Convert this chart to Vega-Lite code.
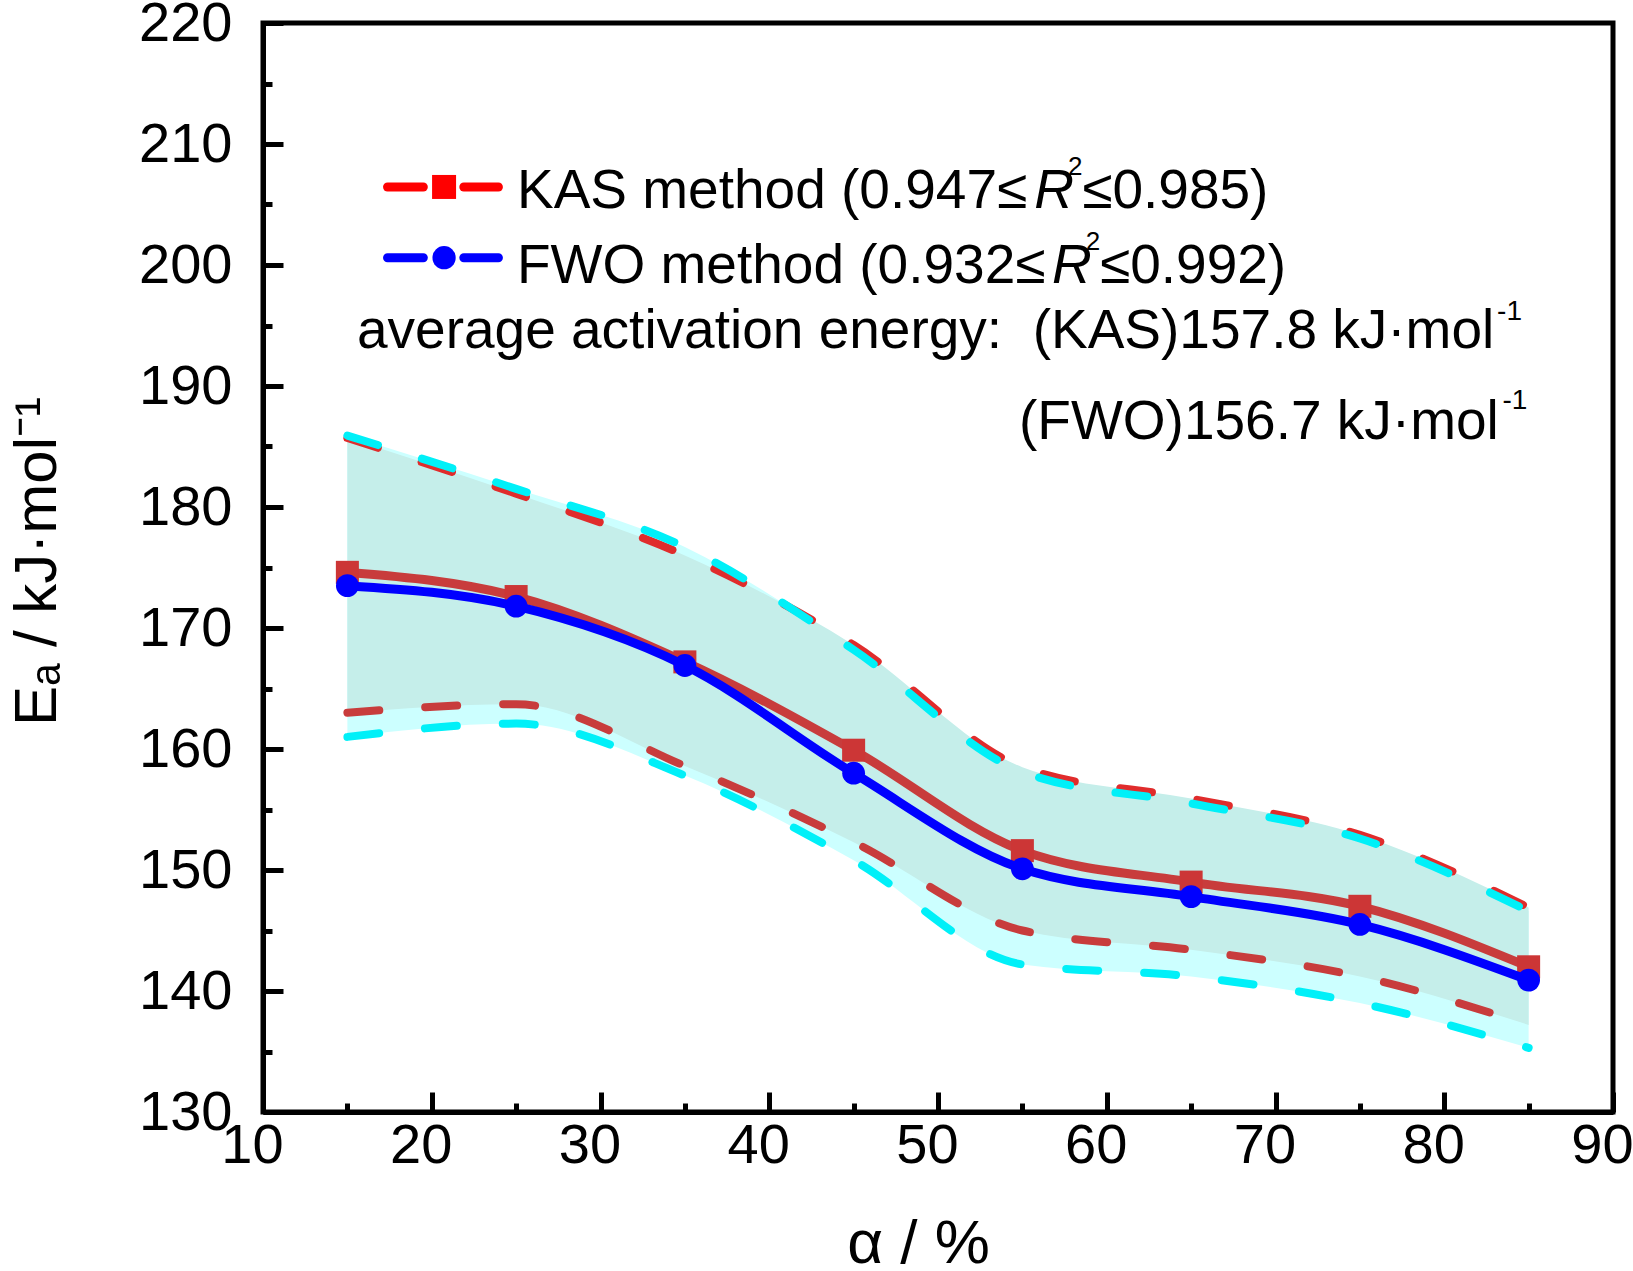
{
  "$schema": "https://vega.github.io/schema/vega-lite/v6.json",
  "width": 1350,
  "height": 1089,
  "autosize": {"type": "none"},
  "padding": {"left": 263, "top": 23, "right": 20, "bottom": 159},
  "background": "white",
  "datasets": {
    "ea": [
      {"alpha": 15, "method": "KAS", "Ea": 174.6, "upper": 185.7, "lower": 163.0},
      {"alpha": 25, "method": "KAS", "Ea": 172.6, "upper": 181.1, "lower": 163.7},
      {"alpha": 35, "method": "KAS", "Ea": 167.2, "upper": 176.0, "lower": 158.6},
      {"alpha": 45, "method": "KAS", "Ea": 159.9, "upper": 168.6, "lower": 152.3},
      {"alpha": 55, "method": "KAS", "Ea": 151.6, "upper": 158.5, "lower": 145.0},
      {"alpha": 65, "method": "KAS", "Ea": 149.0, "upper": 155.9, "lower": 143.4},
      {"alpha": 75, "method": "KAS", "Ea": 147.0, "upper": 152.9, "lower": 141.2},
      {"alpha": 85, "method": "KAS", "Ea": 142.0, "upper": 146.9, "lower": 137.2},
      {"alpha": 15, "method": "FWO", "Ea": 173.5, "upper": 185.9, "lower": 161.0},
      {"alpha": 25, "method": "FWO", "Ea": 171.8, "upper": 181.5, "lower": 162.1},
      {"alpha": 35, "method": "FWO", "Ea": 166.9, "upper": 176.7, "lower": 157.8},
      {"alpha": 45, "method": "FWO", "Ea": 158.0, "upper": 168.2, "lower": 150.8},
      {"alpha": 55, "method": "FWO", "Ea": 150.1, "upper": 158.1, "lower": 142.2},
      {"alpha": 65, "method": "FWO", "Ea": 147.8, "upper": 155.5, "lower": 141.2},
      {"alpha": 75, "method": "FWO", "Ea": 145.5, "upper": 152.6, "lower": 139.0},
      {"alpha": 85, "method": "FWO", "Ea": 140.9, "upper": 146.6, "lower": 135.3}
    ]
  },
  "layer": [
    {
      "layer": [
        {
          "data": {"name": "ea"},
          "transform": [{"filter": "datum.method === 'FWO'"}],
          "mark": {"type": "area", "interpolate": "monotone", "color": "#ccffff"},
          "encoding": {
            "x": {
              "field": "alpha", "type": "quantitative",
              "scale": {"domain": [10, 90], "nice": false, "zero": false},
              "axis": {
                "values": [10, 20, 30, 40, 50, 60, 70, 80, 90],
                "title": "α / %",
                "titleX": 655, "titleY": 150, "titleBaseline": "alphabetic",
                "titleFont": "Liberation Sans", "titleFontSize": 62, "titleFontWeight": "normal",
                "labelPadding": 26, "labelOffset": -11, "tickSize": -20
              }
            },
            "y": {
              "field": "upper", "type": "quantitative",
              "scale": {"domain": [130, 220], "nice": false, "zero": false},
              "axis": {
                "values": [130, 140, 150, 160, 170, 180, 190, 200, 210, 220],
                "title": "Eₐ / kJ·mol⁻¹",
                "titleX": -208, "titleY": 538, "titleBaseline": "alphabetic", "titleAngle": 270,
                "titleFont": "Liberation Sans", "titleFontSize": 60, "titleFontWeight": "normal",
                "labelPadding": 51, "tickSize": -20
              }
            },
            "y2": {"field": "lower"}
          }
        },
        {
          "data": {"name": "ea"},
          "transform": [{"filter": "datum.method === 'KAS'"}],
          "mark": {"type": "area", "interpolate": "monotone", "color": "#c5eeea"},
          "encoding": {
            "x": {"field": "alpha", "type": "quantitative"},
            "y": {"field": "upper", "type": "quantitative"},
            "y2": {"field": "lower"}
          }
        },
        {
          "data": {"name": "ea"},
          "transform": [{"filter": "datum.method === 'KAS'"}],
          "mark": {"type": "line", "interpolate": "monotone", "color": "#c83c3c", "strokeWidth": 8, "strokeDash": [32, 46], "strokeCap": "round"},
          "encoding": {
            "x": {"field": "alpha", "type": "quantitative"},
            "y": {"field": "lower", "type": "quantitative"}
          }
        },
        {
          "data": {"name": "ea"},
          "transform": [{"filter": "datum.method === 'FWO'"}],
          "mark": {"type": "line", "interpolate": "monotone", "color": "#00f0f8", "strokeWidth": 8, "strokeDash": [32, 46], "strokeCap": "round"},
          "encoding": {
            "x": {"field": "alpha", "type": "quantitative"},
            "y": {"field": "lower", "type": "quantitative"}
          }
        },
        {
          "data": {"name": "ea"},
          "transform": [{"filter": "datum.method === 'KAS'"}],
          "mark": {"type": "line", "interpolate": "monotone", "color": "#e02c2c", "strokeWidth": 8, "strokeDash": [32, 46], "strokeCap": "round"},
          "encoding": {
            "x": {"field": "alpha", "type": "quantitative"},
            "y": {"field": "upper", "type": "quantitative"}
          }
        },
        {
          "data": {"name": "ea"},
          "transform": [{"filter": "datum.method === 'FWO'"}],
          "mark": {"type": "line", "interpolate": "monotone", "color": "#00f0f8", "strokeWidth": 8, "strokeDash": [32, 46], "strokeCap": "round"},
          "encoding": {
            "x": {"field": "alpha", "type": "quantitative"},
            "y": {"field": "upper", "type": "quantitative"}
          }
        },
        {
          "data": {"name": "ea"},
          "transform": [{"filter": "datum.method === 'KAS'"}],
          "mark": {"type": "line", "interpolate": "monotone", "color": "#c83c3c", "strokeWidth": 9},
          "encoding": {
            "x": {"field": "alpha", "type": "quantitative"},
            "y": {"field": "Ea", "type": "quantitative"}
          }
        },
        {
          "data": {"name": "ea"},
          "transform": [{"filter": "datum.method === 'KAS'"}],
          "mark": {"type": "point", "shape": "square", "filled": true, "size": 530, "color": "#cc3636", "opacity": 1},
          "encoding": {
            "x": {"field": "alpha", "type": "quantitative"},
            "y": {"field": "Ea", "type": "quantitative"}
          }
        },
        {
          "data": {"name": "ea"},
          "transform": [{"filter": "datum.method === 'FWO'"}],
          "mark": {"type": "line", "interpolate": "monotone", "color": "#0000ff", "strokeWidth": 9},
          "encoding": {
            "x": {"field": "alpha", "type": "quantitative"},
            "y": {"field": "Ea", "type": "quantitative"}
          }
        },
        {
          "data": {"name": "ea"},
          "transform": [{"filter": "datum.method === 'FWO'"}],
          "mark": {"type": "point", "shape": "circle", "filled": true, "size": 520, "color": "#0000ff", "opacity": 1},
          "encoding": {
            "x": {"field": "alpha", "type": "quantitative"},
            "y": {"field": "Ea", "type": "quantitative"}
          }
        },
        {
          "data": {"values": [{"method": "KAS"}]},
          "mark": {"type": "rule", "color": "#ff0000", "strokeWidth": 9, "strokeCap": "round"},
          "encoding": {"x": {"datum": 17.38}, "x2": {"datum": 19.5}, "y": {"datum": 206.45}}
        },
        {
          "data": {"values": [{"method": "KAS"}]},
          "mark": {"type": "rule", "color": "#ff0000", "strokeWidth": 9, "strokeCap": "round"},
          "encoding": {"x": {"datum": 21.9}, "x2": {"datum": 23.95}, "y": {"datum": 206.45}}
        },
        {
          "data": {"values": [{"method": "KAS"}]},
          "mark": {"type": "point", "shape": "square", "filled": true, "size": 576, "color": "#ff0000", "opacity": 1},
          "encoding": {"x": {"datum": 20.73}, "y": {"datum": 206.45}}
        },
        {
          "data": {"values": [{"method": "FWO"}]},
          "mark": {"type": "rule", "color": "#0000ff", "strokeWidth": 9, "strokeCap": "round"},
          "encoding": {"x": {"datum": 17.38}, "x2": {"datum": 19.5}, "y": {"datum": 200.6}}
        },
        {
          "data": {"values": [{"method": "FWO"}]},
          "mark": {"type": "rule", "color": "#0000ff", "strokeWidth": 9, "strokeCap": "round"},
          "encoding": {"x": {"datum": 21.9}, "x2": {"datum": 23.95}, "y": {"datum": 200.6}}
        },
        {
          "data": {"values": [{"method": "FWO"}]},
          "mark": {"type": "point", "shape": "circle", "filled": true, "size": 540, "color": "#0000ff", "opacity": 1},
          "encoding": {"x": {"datum": 20.73}, "y": {"datum": 200.6}}
        },
        {
          "data": {"values": [{"label": "KAS method (0.947≤"}]},
          "mark": {"type": "text", "align": "left", "baseline": "alphabetic", "fontSize": 55},
          "encoding": {"x": {"datum": 25.05}, "y": {"datum": 204.7}, "text": {"field": "label"}}
        },
        {
          "data": {"values": [{"label": "R"}]},
          "mark": {"type": "text", "align": "left", "baseline": "alphabetic", "fontSize": 55, "fontStyle": "italic"},
          "encoding": {"x": {"datum": 55.7}, "y": {"datum": 204.7}, "text": {"field": "label"}}
        },
        {
          "data": {"values": [{"label": "2"}]},
          "mark": {"type": "text", "align": "left", "baseline": "alphabetic", "fontSize": 26},
          "encoding": {"x": {"datum": 57.7}, "y": {"datum": 207.44}, "text": {"field": "label"}}
        },
        {
          "data": {"values": [{"label": "≤0.985)"}]},
          "mark": {"type": "text", "align": "left", "baseline": "alphabetic", "fontSize": 55},
          "encoding": {"x": {"datum": 58.55}, "y": {"datum": 204.7}, "text": {"field": "label"}}
        },
        {
          "data": {"values": [{"label": "FWO method (0.932≤"}]},
          "mark": {"type": "text", "align": "left", "baseline": "alphabetic", "fontSize": 55},
          "encoding": {"x": {"datum": 25.05}, "y": {"datum": 198.5}, "text": {"field": "label"}}
        },
        {
          "data": {"values": [{"label": "R"}]},
          "mark": {"type": "text", "align": "left", "baseline": "alphabetic", "fontSize": 55, "fontStyle": "italic"},
          "encoding": {"x": {"datum": 56.75}, "y": {"datum": 198.5}, "text": {"field": "label"}}
        },
        {
          "data": {"values": [{"label": "2"}]},
          "mark": {"type": "text", "align": "left", "baseline": "alphabetic", "fontSize": 26},
          "encoding": {"x": {"datum": 58.75}, "y": {"datum": 201.24}, "text": {"field": "label"}}
        },
        {
          "data": {"values": [{"label": "≤0.992)"}]},
          "mark": {"type": "text", "align": "left", "baseline": "alphabetic", "fontSize": 55},
          "encoding": {"x": {"datum": 59.6}, "y": {"datum": 198.5}, "text": {"field": "label"}}
        },
        {
          "data": {"values": [{"label": "average activation energy:\u00a0 (KAS)157.8 kJ·mol"}]},
          "mark": {"type": "text", "align": "left", "baseline": "alphabetic", "fontSize": 55},
          "encoding": {"x": {"datum": 15.57}, "y": {"datum": 193.14}, "text": {"field": "label"}}
        },
        {
          "data": {"values": [{"label": "-1"}]},
          "mark": {"type": "text", "align": "left", "baseline": "alphabetic", "fontSize": 28},
          "encoding": {"x": {"datum": 83.13}, "y": {"datum": 195.45}, "text": {"field": "label"}}
        },
        {
          "data": {"values": [{"label": "(FWO)156.7 kJ·mol"}]},
          "mark": {"type": "text", "align": "left", "baseline": "alphabetic", "fontSize": 55},
          "encoding": {"x": {"datum": 54.8}, "y": {"datum": 185.62}, "text": {"field": "label"}}
        },
        {
          "data": {"values": [{"label": "-1"}]},
          "mark": {"type": "text", "align": "left", "baseline": "alphabetic", "fontSize": 28},
          "encoding": {"x": {"datum": 83.45}, "y": {"datum": 188.1}, "text": {"field": "label"}}
        }
      ]
    },
    {
      "data": {"name": "ea"},
      "mark": {"type": "point", "opacity": 0},
      "encoding": {
        "x": {
          "field": "alpha", "type": "quantitative",
          "scale": {"domain": [10, 90], "nice": false, "zero": false},
          "axis": {"orient": "bottom", "values": [15, 25, 35, 45, 55, 65, 75, 85], "labels": false, "domain": false, "tickSize": -9, "title": null}
        },
        "y": {
          "field": "Ea", "type": "quantitative",
          "scale": {"domain": [130, 220], "nice": false, "zero": false},
          "axis": {"orient": "left", "values": [135, 145, 155, 165, 175, 185, 195, 205, 215], "labels": false, "domain": false, "tickSize": -9, "title": null}
        }
      }
    }
  ],
  "resolve": {"axis": {"x": "independent", "y": "independent"}},
  "config": {
    "view": {"stroke": "black", "strokeWidth": 5},
    "text": {"font": "Liberation Sans", "color": "black"},
    "axis": {
      "grid": false,
      "domainColor": "black",
      "domainWidth": 5,
      "tickColor": "black",
      "tickWidth": 5,
      "labelColor": "black",
      "labelFont": "Liberation Sans",
      "labelFontSize": 56,
      "labelOverlap": false,
      "labelFlush": false,
      "titleColor": "black"
    }
  }
}
